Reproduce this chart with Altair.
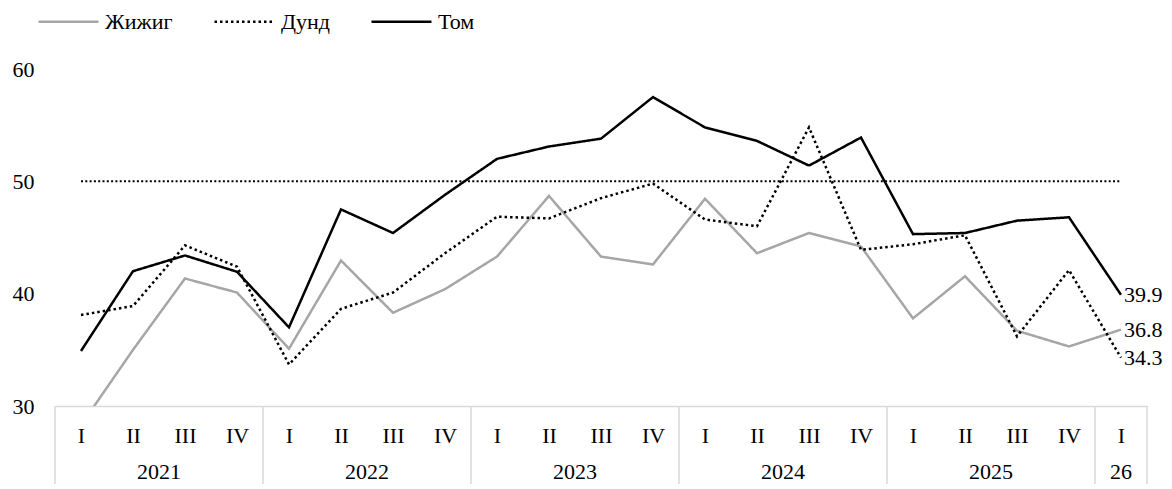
import altair as alt
import pandas as pd

quarters = ["I", "II", "III", "IV"] * 5 + ["I"]
years = ["2021", "2022", "2023", "2024", "2025", "26"]
year_pos = [1.5, 5.5, 9.5, 13.5, 17.5, 20]
separators = [-0.5, 3.5, 7.5, 11.5, 15.5, 19.5, 20.5]
series = ["Жижиг", "Дунд", "Том"]
zhizhig = [28.3, 35.0, 41.35, 40.1, 35.1, 42.95, 38.3, 40.4, 43.3, 48.7, 43.3,
           42.6, 48.45, 43.6, 45.4, 44.2, 37.8, 41.55, 36.7, 35.3, 36.8]
dund = [38.1, 38.9, 44.3, 42.4, 33.7, 38.65, 40.1, 43.6, 46.85, 46.7, 48.5,
        49.8, 46.6, 46.0, 54.8, 43.9, 44.4, 45.2, 36.2, 42.1, 34.3]
tom = [34.9, 42.0, 43.4, 41.95, 37.0, 47.5, 45.4, 48.8, 52.0, 53.1, 53.8,
       57.5, 54.8, 53.6, 51.4, 53.9, 45.3, 45.4, 46.5, 46.8, 39.9]
threshold = 50

rows = []
for name, vals in zip(series, [zhizhig, dund, tom]):
    for i, v in enumerate(vals):
        rows.append({"idx": i, "value": v, "series": name, "q": quarters[i]})
df = pd.DataFrame(rows)
last = df[df["idx"] == len(quarters) - 1]

rule_df = pd.DataFrame({"idx": [0], "idx2": [len(quarters) - 1], "value": [threshold]})
sep_df = pd.DataFrame({"idx": separators})
year_df = pd.DataFrame({"idx": year_pos, "year": years})

W, H = 1092, 337
FONT = "Liberation Serif"
FS = 22
GRID = "#D9D9D9"

x = alt.X("idx:Q",
          scale=alt.Scale(domain=[-0.5, 20.5], nice=False, zero=False),
          axis=alt.Axis(values=list(range(len(quarters))),
                        labelExpr="['I','II','III','IV'][datum.value % 4]",
                        ticks=False, tickSize=0, grid=False,
                        domainColor=GRID, domainWidth=1.5,
                        labelFont=FONT, labelFontSize=FS, labelColor="black",
                        labelPadding=29, labelBaseline="middle",
                        labelFlush=False, labelOverlap=False, title=None))
y = alt.Y("value:Q",
          scale=alt.Scale(domain=[30, 60], nice=False, zero=False),
          axis=alt.Axis(values=[30, 40, 50, 60], grid=False, domain=False,
                        ticks=False, labelFont=FONT, labelFontSize=FS,
                        labelColor="black", labelPadding=21, title=None))

leg = alt.Legend(orient="none", legendX=-18, legendY=-79, direction="horizontal",
                 symbolType="stroke", symbolSize=3600, symbolStrokeWidth=2.5,
                 labelFont=FONT, labelFontSize=FS, labelColor="black",
                 labelOffset=5, columnPadding=36, title=None, padding=0)

lines = alt.Chart(df).mark_line(clip=True, strokeWidth=2.5).encode(
    x=x, y=y,
    color=alt.Color("series:N", sort=series,
                    scale=alt.Scale(domain=series, range=["#A6A6A6", "#000000", "#000000"]),
                    legend=leg),
    strokeDash=alt.StrokeDash("series:N", sort=series,
                              scale=alt.Scale(domain=series, range=[[1, 0], [2.5, 3], [1, 0]]),
                              legend=leg),
)

ref = alt.Chart(rule_df).mark_rule(color="black", strokeWidth=2, strokeDash=[2, 2.3]).encode(
    x=x, x2="idx2:Q", y=y)

seps = alt.Chart(sep_df).mark_rule(color=GRID, strokeWidth=1.5).encode(
    x=x, y=alt.value(H), y2=alt.value(H + 90))

yrs = alt.Chart(year_df).mark_text(font=FONT, fontSize=FS, color="black", baseline="middle").encode(
    x=x, y=alt.value(H + 66), text="year:N")

ends = alt.Chart(last).mark_text(font=FONT, fontSize=FS, color="black", align="left",
                                 baseline="middle", dx=3).encode(
    x=x, y=y, text=alt.Text("value:Q", format=".1f"))

chart = alt.layer(ref, lines, seps, yrs, ends).properties(
    width=W, height=H,
    padding={"left": 47, "top": 61, "right": 17, "bottom": 78},
    autosize=alt.AutoSizeParams(type="none"),
).configure_view(stroke=None)

chart.save("out.html", embed_options={"renderer": "svg", "actions": False})
